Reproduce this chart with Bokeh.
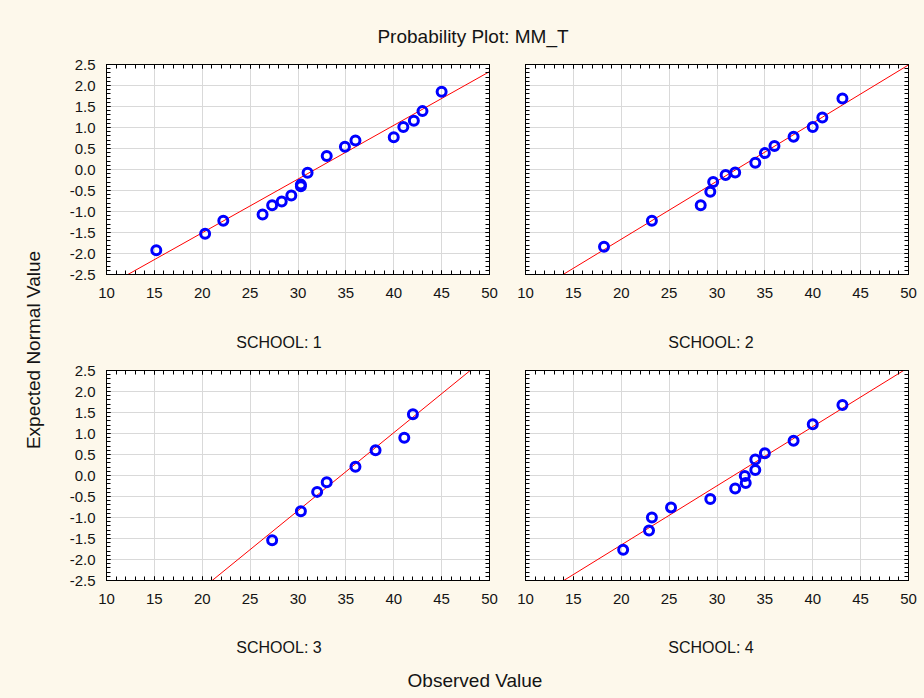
from bokeh.plotting import figure
from bokeh.models import (Range1d, LinearAxis, SingleIntervalTicker, PrintfTickFormatter,
                          Div, CustomLabelingPolicy)
from bokeh.layouts import row, column
from bokeh.embed import file_html
from bokeh.resources import INLINE
import numpy as np

BG = "#FDF8EB"
FONT = "Liberation Sans"
TXT = "#141414"

chart_title = "Probability Plot: MM_T"
x_title = "Observed Value"
y_title = "Expected Normal Value"
panel_labels = ["SCHOOL: 1", "SCHOOL: 2", "SCHOOL: 3", "SCHOOL: 4"]

school1_observed = [15.2, 20.3, 22.2, 26.3, 27.3, 28.3, 29.3, 30.3, 30.3, 31.0, 33.0, 34.9, 36.0, 40.0, 41.0, 42.1, 43.0, 45.0]
school1_expected = [-1.92, -1.53, -1.22, -1.07, -0.85, -0.76, -0.62, -0.40, -0.36, -0.08, 0.32, 0.54, 0.69, 0.77, 1.01, 1.16, 1.39, 1.85]

school2_observed = [18.2, 23.2, 28.3, 29.3, 29.6, 30.9, 31.9, 34.0, 35.0, 36.0, 38.0, 40.0, 41.0, 43.1]
school2_expected = [-1.84, -1.22, -0.85, -0.53, -0.30, -0.13, -0.07, 0.16, 0.39, 0.56, 0.78, 1.01, 1.24, 1.69]

school3_observed = [27.3, 30.3, 32.0, 33.0, 36.0, 38.1, 41.1, 42.0]
school3_expected = [-1.54, -0.85, -0.39, -0.16, 0.21, 0.60, 0.90, 1.46]

school4_observed = [20.2, 22.9, 23.2, 25.2, 29.3, 31.9, 33.0, 32.9, 34.0, 34.0, 35.0, 38.0, 40.0, 43.1]
school4_expected = [-1.77, -1.31, -1.00, -0.76, -0.56, -0.31, -0.18, -0.01, 0.13, 0.38, 0.53, 0.83, 1.22, 1.68]

# normal reference line per school: expected = (observed - mean) / sd
line_mean = [31.78, 32.0, 34.51, 31.74]
line_sd = [7.82, 7.23, 5.39, 7.10]

x_limits = (10, 50)
y_limits = (-2.5, 2.5)

HIDE_LABELS = CustomLabelingPolicy(code="""
try {
  const r = indices.clone();
  for (const i of Array.from(indices)) { r.unset(i); }
  return r;
} catch (e) {
  return indices;
}
""")


def style_axis(ax, show_labels, standoff):
    ax.axis_line_color = "black"
    ax.major_tick_in = 4
    ax.major_tick_out = 0
    ax.minor_tick_in = 4
    ax.minor_tick_out = 0
    ax.major_tick_line_color = "black"
    ax.minor_tick_line_color = "black"
    ax.major_label_text_font = FONT
    ax.major_label_text_color = TXT
    if show_labels:
        ax.major_label_text_font_size = "15px"
        ax.major_label_standoff = standoff
    else:
        ax.major_label_text_font_size = "1px"
        ax.major_label_standoff = 0
        ax.major_label_policy = HIDE_LABELS


def make_panel(xs, zs, mean, sd, width, height, bl, bt, bb, show_y):
    p = figure(width=width, height=height,
               x_range=Range1d(*x_limits), y_range=Range1d(*y_limits),
               output_backend="svg", toolbar_location=None,
               min_border_left=bl, min_border_right=16,
               min_border_top=bt, min_border_bottom=bb,
               background_fill_color="white", border_fill_color=BG,
               outline_line_color="black")
    xt = SingleIntervalTicker(interval=5, num_minor_ticks=5)
    yt = SingleIntervalTicker(interval=0.5, num_minor_ticks=5)
    p.xaxis.ticker = xt
    p.yaxis.ticker = yt
    p.xgrid.ticker = xt
    p.ygrid.ticker = yt
    p.yaxis.formatter = PrintfTickFormatter(format="%.1f")
    style_axis(p.xaxis[0], True, 13)
    style_axis(p.yaxis[0], show_y, 11)
    top = LinearAxis(ticker=xt)
    right = LinearAxis(ticker=yt)
    style_axis(top, False, 0)
    style_axis(right, False, 0)
    p.add_layout(top, "above")
    p.add_layout(right, "right")
    p.grid.grid_line_color = "#D9D9D9"
    p.grid.grid_line_width = 1

    xl = np.array(x_limits, dtype=float)
    p.line(xl, (xl - mean) / sd, line_color="#FF0000", line_width=1)
    p.scatter(xs, zs, marker="circle", size=9, fill_color=None,
              line_color="#0000FF", line_width=3)
    return p


f1 = make_panel(school1_observed, school1_expected, line_mean[0], line_sd[0], 445, 262, 46, 16, 36, True)
f2 = make_panel(school2_observed, school2_expected, line_mean[1], line_sd[1], 419, 262, 20, 16, 36, False)
f3 = make_panel(school3_observed, school3_expected, line_mean[2], line_sd[2], 445, 256, 46, 10, 36, True)
f4 = make_panel(school4_observed, school4_expected, line_mean[3], line_sd[3], 419, 256, 20, 10, 36, False)

bgs = {"background-color": BG}


def text_block(items, width, height, size):
    spans = "".join(
        f'<div style="position:absolute;left:{x}px;top:{y}px;transform:translate(-50%,-50%){rot};'
        f"font-family:'{FONT}';font-size:{size}px;line-height:{size}px;color:{TXT};white-space:nowrap;\">{t}</div>"
        for (t, x, y, rot) in items)
    return Div(text=f'<div style="position:relative;width:{width}px;height:{height}px;background:{BG};">{spans}</div>',
               width=width, height=height, margin=0, styles=bgs)


title_div = text_block([(chart_title, 473, 36, "")], 924, 48, 19)
ylabel_div = text_block([(y_title, 33, 302, " rotate(-90deg)")], 60, 622, 19)
lab_row1 = text_block([(panel_labels[0], 219, 33, ""), (panel_labels[1], 651, 33, "")], 864, 50, 16)
lab_row2 = text_block([(panel_labels[2], 219, 32, ""), (panel_labels[3], 651, 32, "")], 864, 54, 16)
xlabel_div = text_block([(x_title, 475, 10, "")], 924, 28, 19)

grid = column(row(f1, f2, styles=bgs), lab_row1, row(f3, f4, styles=bgs), lab_row2, styles=bgs)
layout = column(title_div, row(ylabel_div, grid, styles=bgs), xlabel_div, styles=bgs)

open("out.html", "w").write(file_html(layout, INLINE))
